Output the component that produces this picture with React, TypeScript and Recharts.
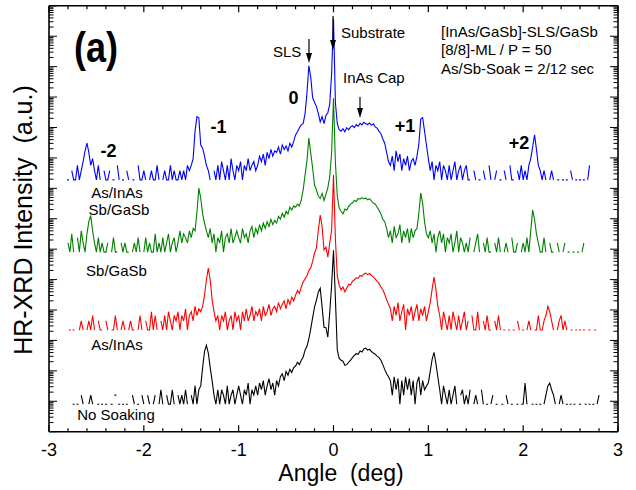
import React from 'react';
import { LineChart, Line, XAxis, YAxis } from 'recharts';

// Scan grid of the diffractometer (deg)
const ANGLE_START = -2.8;
const ANGLE_STEP = 0.02;

// Normalised counts (1 = noise floor, 0 = no counts), one row = 0.2 deg
const BLUE_COUNTS = [
  1, 0, 2, 1, 1, 3, 1, 2, 4, 9,
  16, 8, 3, 5, 2, 1, 3, 1, 0, 2,
  1, 1, 2, 0, 1, 0, 3, 1, 0, 1,
  0, 2, 1, 0, 1, 1, 0, 3, 1, 1,
  2, 1, 0, 1, 2, 1, 1, 3, 1, 0,
  1, 2, 1, 1, 3, 1, 2, 1, 1, 2,
  1, 2, 1, 3, 2, 3, 5, 40, 120, 110,
  14, 11, 6, 3, 2, 1, 0, 2, 1, 3,
  1, 4, 2, 1, 3, 1, 5, 2, 1, 3,
  2, 4, 1, 3, 2, 5, 2, 3, 4, 2,
  3, 6, 4, 7, 3, 8, 5, 10, 6, 9,
  8, 12, 7, 14, 10, 13, 9, 16, 12, 18,
  30, 38, 51, 64, 70, 150, 700, 5600, 2400, 500,
  350, 260, 150, 80, 120, 70, 130, 160, 300, 3000,
  200000, 350, 70, 45, 40, 48, 38, 52, 44, 55,
  60, 52, 66, 58, 72, 64, 78, 70, 66, 74,
  62, 70, 55, 50, 40, 33, 22, 16, 8, 4,
  3, 6, 2, 9, 4, 7, 2, 5, 3, 6,
  2, 4, 5, 3, 6, 15, 100, 110, 40, 14,
  5, 2, 4, 1, 3, 2, 4, 1, 3, 2,
  1, 3, 1, 2, 4, 1, 2, 3, 1, 2,
  3, 1, 1, 0, 2, 1, 0, 1, 0, 2,
  1, 0, 3, 1, 0, 1, 2, 0, 1, 0,
  2, 1, 0, 3, 1, 1, 0, 2, 1, 3,
  1, 2, 1, 3, 5, 12, 30, 10, 3, 2,
  1, 2, 1, 0, 1, 2, 1, 0, 1, 1,
  0, 1, 0, 1, 0, 2, 1, 0, 1, 0,
  1, 0, 1, 0, 1, 3, 0, 0, 0, 0,
  0,
];

const GREEN_COUNTS = [
  2, 1, 4, 1, 0, 3, 1, 5, 2, 1,
  4, 10, 16, 5, 2, 1, 3, 1, 2, 1,
  1, 2, 0, 1, 3, 1, 1, 0, 2, 1,
  2, 1, 1, 0, 1, 2, 1, 3, 1, 0,
  1, 3, 1, 2, 1, 1, 4, 1, 2, 1,
  3, 1, 2, 4, 1, 2, 3, 1, 2, 5,
  2, 4, 3, 2, 5, 3, 6, 5, 20, 127,
  60, 18, 9, 5, 3, 6, 2, 4, 1, 3,
  2, 5, 1, 3, 4, 2, 6, 2, 3, 5,
  3, 2, 6, 3, 4, 2, 5, 7, 3, 6,
  4, 8, 5, 9, 6, 10, 7, 12, 8, 11,
  9, 15, 12, 19, 14, 22, 18, 30, 24, 33,
  30, 38, 33, 51, 110, 340, 1000, 5600, 1800, 580,
  160, 110, 70, 58, 85, 50, 80, 130, 300, 1800,
  115000, 900, 70, 28, 22, 18, 26, 24, 32, 38,
  42, 50, 46, 58, 55, 62, 56, 60, 52, 57,
  48, 40, 38, 30, 24, 18, 12, 10, 6, 3,
  5, 2, 7, 3, 4, 8, 2, 5, 3, 6,
  2, 6, 3, 5, 6, 19, 87, 40, 10, 4,
  3, 5, 2, 4, 1, 3, 5, 2, 4, 1,
  3, 2, 4, 1, 2, 5, 1, 3, 2, 1,
  2, 1, 3, 0, 1, 2, 4, 1, 0, 2,
  1, 3, 1, 1, 0, 2, 1, 3, 1, 0,
  1, 2, 1, 0, 3, 1, 1, 2, 0, 1,
  2, 1, 3, 1, 5, 24, 12, 4, 2, 1,
  1, 3, 1, 0, 2, 1, 1, 0, 2, 1,
  0, 1, 2, 0, 1, 0, 1, 1, 0, 1,
  0, 1, 2, 0, 0, 0, 0, 0, 0, 0,
  0,
];

const RED_COUNTS = [
  0, 1, 0, 1, 0, 0, 1, 2, 1, 0,
  1, 2, 1, 3, 1, 0, 2, 1, 1, 0,
  2, 1, 0, 1, 1, 3, 1, 0, 1, 2,
  1, 0, 1, 2, 1, 1, 0, 1, 3, 1,
  0, 2, 1, 1, 4, 1, 3, 1, 0, 2,
  1, 3, 1, 4, 2, 1, 3, 2, 4, 1,
  3, 2, 5, 1, 3, 4, 2, 6, 3, 5,
  4, 6, 14, 45, 109, 44, 10, 4, 2, 3,
  1, 3, 2, 4, 1, 2, 3, 1, 4, 2,
  3, 1, 4, 2, 5, 2, 3, 6, 2, 4,
  3, 5, 2, 6, 3, 4, 7, 3, 5, 6,
  4, 8, 5, 7, 9, 5, 10, 7, 12, 9,
  14, 20, 16, 26, 38, 48, 60, 90, 110, 180,
  340, 500, 1900, 6000, 2500, 430, 530, 250, 700, 1900,
  125000, 1000, 60, 30, 21, 26, 18, 24, 32, 30,
  40, 45, 52, 50, 62, 58, 70, 74, 66, 72,
  62, 56, 48, 40, 34, 26, 21, 15, 10, 7,
  5, 2, 6, 3, 8, 2, 4, 7, 1, 5,
  3, 6, 2, 4, 7, 2, 5, 3, 6, 2,
  4, 8, 22, 55, 22, 6, 3, 1, 4, 2,
  1, 3, 1, 4, 2, 1, 3, 1, 2, 4,
  1, 2, 0, 3, 1, 1, 4, 1, 0, 2,
  1, 3, 1, 1, 0, 2, 1, 3, 1, 0,
  1, 0, 1, 1, 0, 1, 0, 2, 1, 0,
  1, 0, 1, 2, 1, 0, 1, 1, 3, 1,
  1, 2, 3, 6, 4, 2, 1, 0, 1, 2,
  3, 1, 2, 1, 0, 1, 1, 0, 1, 0,
  1, 0, 1, 0, 0, 1, 0, 0, 1, 0,
  0,
];

const BLACK_COUNTS = [
  0, 0, 0, 1, 0, 1, 0, 2, 1, 0,
  0, 1, 2, 1, 0, 0, 1, 0, 1, 0,
  1, 0, 0, 1, 0, 2, 0, 1, 0, 1,
  0, 1, 0, 0, 2, 1, 0, 1, 0, 2,
  1, 0, 2, 1, 0, 1, 2, 0, 1, 3,
  1, 0, 2, 1, 1, 3, 1, 0, 2, 1,
  2, 1, 3, 1, 0, 2, 1, 4, 1, 3,
  4, 16, 55, 87, 48, 16, 6, 2, 1, 3,
  1, 3, 2, 1, 4, 1, 2, 3, 1, 2,
  4, 2, 1, 3, 2, 5, 1, 3, 2, 4,
  2, 5, 3, 6, 2, 4, 7, 3, 5, 2,
  6, 4, 8, 10, 6, 12, 9, 14, 11, 16,
  18, 24, 20, 28, 35, 60, 80, 140, 300, 700,
  1550, 2600, 4800, 6500, 1550, 340, 330, 160, 1000, 8000,
  115000, 3000, 60, 32, 28, 26, 19, 20, 24, 28,
  34, 40, 46, 44, 56, 52, 66, 70, 60, 64,
  54, 48, 44, 38, 34, 28, 20, 14, 10, 8,
  6, 2, 8, 3, 7, 1, 6, 2, 8, 3,
  7, 2, 6, 1, 5, 8, 2, 6, 3, 4,
  5, 12, 30, 51, 22, 8, 3, 1, 4, 2,
  1, 3, 1, 2, 4, 1, 0, 2, 3, 1,
  2, 1, 3, 0, 1, 2, 1, 0, 3, 1,
  0, 1, 0, 1, 2, 0, 1, 0, 0, 1,
  0, 2, 1, 0, 1, 0, 0, 1, 0, 1,
  1, 5, 1, 0, 0, 1, 0, 1, 0, 1,
  0, 1, 2, 4, 5, 3, 2, 1, 0, 1,
  2, 1, 0, 1, 0, 1, 0, 1, 0, 0,
  1, 0, 0, 1, 0, 1, 0, 1, 0, 1,
  2,
];

// Vertical offset factors applied to each curve (log stacking)
const SCALE_BLUE = 1.9e8;
const SCALE_GREEN = 8e5;
const SCALE_RED = 2200;
const SCALE_BLACK = 8;

const X_DOMAIN: [number, number] = [-3, 3];
const Y_DOMAIN: [number, number] = [1, 1e14];

const X_TICKS: number[] = [];
for (let k = -15; k <= 15; k++) X_TICKS.push(Math.round(k * 2) / 10);
const Y_TICKS: number[] = [];
for (let n = 0; n <= 14; n++) {
  Y_TICKS.push(Math.pow(10, n));
  if (n < 14) for (let m = 2; m <= 9; m++) Y_TICKS.push(m * Math.pow(10, n));
}

const toVal = (c: number | undefined, s: number) => (c && c > 0 ? c * s : null);
const N = Math.max(BLUE_COUNTS.length, GREEN_COUNTS.length, RED_COUNTS.length, BLACK_COUNTS.length);
const data: any[] = Array.from({ length: N }, (_, i) => ({
  angle: Math.round((ANGLE_START + i * ANGLE_STEP) * 100) / 100,
  blue: toVal(BLUE_COUNTS[i], SCALE_BLUE),
  green: toVal(GREEN_COUNTS[i], SCALE_GREEN),
  red: toVal(RED_COUNTS[i], SCALE_RED),
  black: toVal(BLACK_COUNTS[i], SCALE_BLACK),
}));

const FONT = "'Liberation Sans', Arial, Helvetica, sans-serif";

const isInt = (v: number) => Math.abs(v - Math.round(v)) < 1e-6;
const isDecade = (v: number) => {
  const l = Math.log10(v);
  return Math.abs(l - Math.round(l)) < 1e-6;
};

function BottomTick(props: any) {
  const { x, y, payload } = props;
  const v = payload.value;
  const major = isInt(v);
  return (
    <g>
      <line x1={x} x2={x} y1={y} y2={y - (major ? 6.5 : 3.5)} stroke="#000" strokeWidth={1.2} />
      {major && (
        <text x={x} y={y + 24} textAnchor="middle" fontSize={18} fontFamily={FONT} fill="#000">
          {String(Math.round(v))}
        </text>
      )}
    </g>
  );
}

function TopTick(props: any) {
  const { x, y, payload } = props;
  const major = isInt(payload.value);
  return <line x1={x} x2={x} y1={y} y2={y + (major ? 6.5 : 3.5)} stroke="#000" strokeWidth={1.2} />;
}

function LeftTick(props: any) {
  const { x, y, payload } = props;
  const major = isDecade(payload.value);
  return <line x1={x} x2={x + (major ? 8 : 4.5)} y1={y} y2={y} stroke="#000" strokeWidth={1} />;
}

function RightTick(props: any) {
  const { x, y, payload } = props;
  const major = isDecade(payload.value);
  return <line x1={x} x2={x - (major ? 8 : 4.5)} y1={y} y2={y} stroke="#000" strokeWidth={1} />;
}

// Points with no neighbours are drawn as tiny dashes (as in the original plot)
const isolatedDot = (key: string) => (props: any) => {
  const { cx, cy, index, stroke } = props;
  const cur = data[index] ? data[index][key] : null;
  const prev = index > 0 ? data[index - 1][key] : null;
  const next = index < data.length - 1 ? data[index + 1][key] : null;
  if (cur == null || cx == null || cy == null || !isFinite(cy) || prev != null || next != null) {
    return <g key={`${key}-${index}`} />;
  }
  return (
    <line key={`${key}-${index}`} x1={cx - 1} x2={cx + 1} y1={cy} y2={cy} stroke={stroke} strokeWidth={1.2} />
  );
};

function Arrow({ x, y1, y2 }: { x: number; y1: number; y2: number }) {
  return (
    <g>
      <line x1={x} x2={x} y1={y1} y2={y2 - 8} stroke="#000" strokeWidth={1.2} />
      <polygon points={`${x - 3},${y2 - 10} ${x + 3},${y2 - 10} ${x},${y2}`} fill="#000" />
    </g>
  );
}

const AXIS_LINE = { stroke: '#000', strokeWidth: 1.6 };

const SERIES = [
  { key: 'black', color: '#000000' },
  { key: 'red', color: '#ff0000' },
  { key: 'green', color: '#008000' },
  { key: 'blue', color: '#0000ff' },
];

export default function App() {
  return (
    <div style={{ position: 'absolute', left: 0, top: 0, width: 636, height: 490, background: '#fff' }}>
      <LineChart
        width={636}
        height={490}
        data={data}
        margin={{ top: 4.8, right: 17, bottom: 57.3, left: 48 }}
      >
        <XAxis
          xAxisId="b"
          dataKey="angle"
          type="number"
          domain={X_DOMAIN}
          allowDataOverflow
          ticks={X_TICKS}
          interval={0}
          height={1}
          tickSize={0}
          tickMargin={0}
          tickLine={false}
          axisLine={AXIS_LINE}
          tick={BottomTick}
        />
        <XAxis
          xAxisId="t"
          orientation="top"
          dataKey="angle"
          type="number"
          domain={X_DOMAIN}
          allowDataOverflow
          ticks={X_TICKS}
          interval={0}
          height={1}
          tickSize={0}
          tickMargin={0}
          tickLine={false}
          axisLine={AXIS_LINE}
          tick={TopTick}
        />
        <YAxis
          yAxisId="l"
          type="number"
          scale="log"
          domain={Y_DOMAIN}
          allowDataOverflow
          ticks={Y_TICKS}
          interval={0}
          width={1}
          tickSize={0}
          tickMargin={0}
          tickLine={false}
          axisLine={AXIS_LINE}
          tick={LeftTick}
        />
        <YAxis
          yAxisId="r"
          orientation="right"
          type="number"
          scale="log"
          domain={Y_DOMAIN}
          allowDataOverflow
          ticks={Y_TICKS}
          interval={0}
          width={1}
          tickSize={0}
          tickMargin={0}
          tickLine={false}
          axisLine={AXIS_LINE}
          tick={RightTick}
        />
        {SERIES.map((s) => (
          <Line
            key={s.key}
            xAxisId="b"
            yAxisId="l"
            dataKey={s.key}
            stroke={s.color}
            strokeWidth={1.1}
            dot={isolatedDot(s.key)}
            activeDot={false}
            isAnimationActive={false}
            connectNulls={false}
          />
        ))}
      </LineChart>
      <svg
        width={636}
        height={490}
        style={{ position: 'absolute', left: 0, top: 0, pointerEvents: 'none' }}
        fontFamily={FONT}
      >
        <text x={74} y={62} fontSize={42} fontWeight="bold" textLength={44} lengthAdjust="spacingAndGlyphs">(a)</text>
        <text x={273} y={56.7} fontSize={15}>SLS</text>
        <Arrow x={309} y1={39} y2={63} />
        <text x={341} y={38} fontSize={15}>Substrate</text>
        <Arrow x={333} y1={16} y2={50} />
        <text x={343} y={83} fontSize={15}>InAs Cap</text>
        <Arrow x={360} y1={97} y2={118} />
        <text x={441} y={36.5} fontSize={15}>[InAs/GaSb]-SLS/GaSb</text>
        <text x={441} y={55} fontSize={15}>[8/8]-ML / P = 50</text>
        <text x={441} y={73.5} fontSize={15}>As/Sb-Soak = 2/12 sec</text>
        <text x={293.5} y={104} fontSize={18} fontWeight="bold" textAnchor="middle">0</text>
        <text x={218.5} y={133} fontSize={18} fontWeight="bold" textAnchor="middle">-1</text>
        <text x={108.5} y={157} fontSize={18} fontWeight="bold" textAnchor="middle">-2</text>
        <text x={405} y={132} fontSize={18} fontWeight="bold" textAnchor="middle">+1</text>
        <text x={519} y={148.5} fontSize={18} fontWeight="bold" textAnchor="middle">+2</text>
        <text x={117} y={198} fontSize={15} textAnchor="middle">As/InAs</text>
        <text x={119} y={215} fontSize={15} textAnchor="middle">Sb/GaSb</text>
        <text x={116.5} y={276} fontSize={15} textAnchor="middle">Sb/GaSb</text>
        <text x={117} y={349.5} fontSize={15} textAnchor="middle">As/InAs</text>
        <text x={116} y={420} fontSize={15} textAnchor="middle">No Soaking</text>
        <text
          x={32}
          y={220}
          fontSize={25}
          textAnchor="middle"
          transform="rotate(-90 32 220)"
          style={{ whiteSpace: 'pre' }}
        >
          {'HR-XRD Intensity  (a.u.)'}
        </text>
        <text x={341} y={481} fontSize={23} textAnchor="middle" style={{ whiteSpace: 'pre' }}>
          {'Angle  (deg)'}
        </text>
      </svg>
    </div>
  );
}
